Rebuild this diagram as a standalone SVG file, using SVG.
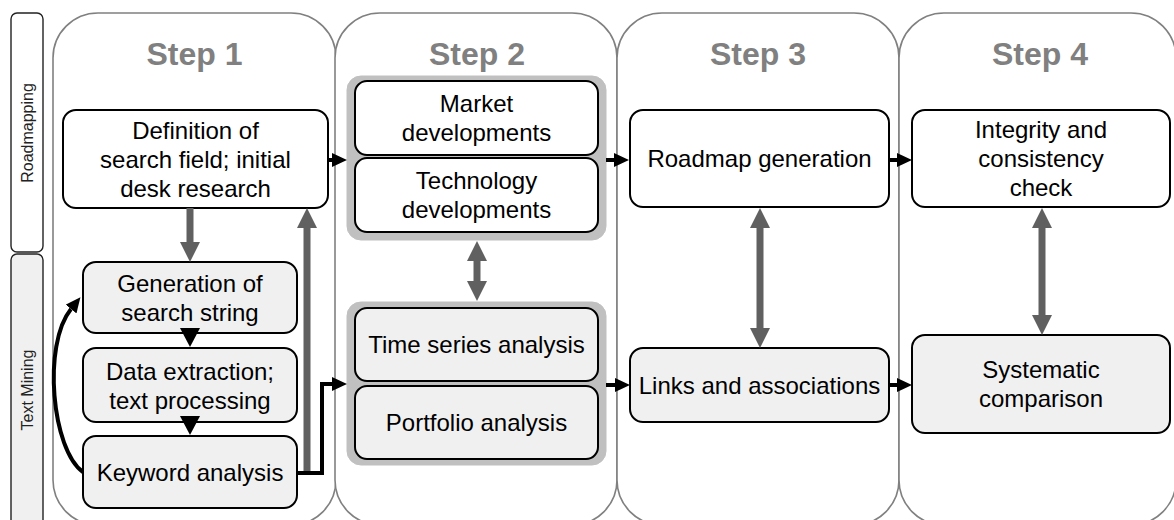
<svg xmlns="http://www.w3.org/2000/svg" width="1174" height="520" viewBox="0 0 1174 520">
<style>
.col{fill:#fff;stroke:#808080;stroke-width:1.6}
.side{stroke:#222;stroke-width:1.4}
.node{stroke:#000;stroke-width:2}
.w{fill:#fff}
.g{fill:#f0f0f0}
.grp{fill:#c0c0c0;stroke:#c0c0c0;stroke-width:1}
text{font-family:"Liberation Sans",Arial,sans-serif;text-anchor:middle}
.t{font-size:24px;fill:#000}
.step{font-size:32px;font-weight:bold;fill:#808080}
.lab{font-size:16px;fill:#222}
.blk{fill:none;stroke:#000;stroke-width:4}
.gry{fill:none;stroke:#606060;stroke-width:7}
</style>
<defs>
<marker id="ab" markerUnits="userSpaceOnUse" markerWidth="16" markerHeight="14" refX="0" refY="7" orient="auto" viewBox="0 0 16 14">
<path d="M0,0 L15,7 L0,14 z" fill="#000"/>
</marker>
<marker id="ag" markerUnits="userSpaceOnUse" markerWidth="20" markerHeight="20" refX="0" refY="10" orient="auto-start-reverse" viewBox="0 0 20 20">
<path d="M0,0 L20,10 L0,20 z" fill="#606060"/>
</marker>
</defs>

<g id="columns">
<rect class="col" x="53" y="13" width="283" height="512" rx="45" ry="45"/>
<rect class="col" x="335" y="13" width="282" height="512" rx="45" ry="45"/>
<rect class="col" x="617" y="13" width="282" height="512" rx="45" ry="45"/>
<rect class="col" x="899" y="13" width="277" height="512" rx="45" ry="45"/>
<text class="step" x="194.5" y="65">Step 1</text>
<text class="step" x="477" y="65">Step 2</text>
<text class="step" x="758" y="65">Step 3</text>
<text class="step" x="1040" y="65">Step 4</text>
</g>

<g id="lane-roadmapping">
<rect class="side" x="11" y="13" width="32" height="239" rx="6" fill="#fff"/>
<text class="lab" transform="translate(33,133) rotate(-90)">Roadmapping</text>
</g>
<g id="lane-textmining">
<rect class="side" x="11" y="254" width="32" height="290" rx="6" fill="#f0f0f0"/>
<text class="lab" transform="translate(33,390) rotate(-90)">Text Mining</text>
</g>

<g id="group-roadmap-step2">
<rect class="grp" x="347" y="76" width="259" height="164" rx="14"/>
</g>
<g id="group-textmining-step2">
<rect class="grp" x="347" y="302" width="259" height="163" rx="14"/>
</g>

<g id="definition">
<rect class="node w" x="63" y="110" width="265" height="98" rx="13"/>
<text class="t" x="195.5" y="138.5">Definition of</text>
<text class="t" x="195.5" y="167.5">search field; initial</text>
<text class="t" x="195.5" y="196.5">desk research</text>
</g>
<g id="generation">
<rect class="node g" x="83" y="262" width="214" height="71" rx="13"/>
<text class="t" x="190" y="291.5">Generation of</text>
<text class="t" x="190" y="320.5">search string</text>
</g>
<g id="extraction">
<rect class="node g" x="83" y="348" width="214" height="74" rx="13"/>
<text class="t" x="190" y="379.5">Data extraction;</text>
<text class="t" x="190" y="408.5">text processing</text>
</g>
<g id="keyword">
<rect class="node g" x="83" y="436" width="214" height="72" rx="13"/>
<text class="t" x="190" y="480.5">Keyword analysis</text>
</g>

<g id="market">
<rect class="node w" x="355" y="81" width="243" height="74" rx="12"/>
<text class="t" x="476.5" y="112">Market</text>
<text class="t" x="476.5" y="141">developments</text>
</g>
<g id="technology">
<rect class="node w" x="355" y="158" width="243" height="74" rx="12"/>
<text class="t" x="476.5" y="189">Technology</text>
<text class="t" x="476.5" y="218">developments</text>
</g>
<g id="timeseries">
<rect class="node g" x="355" y="308" width="243" height="73" rx="12"/>
<text class="t" x="476.5" y="353">Time series analysis</text>
</g>
<g id="portfolio">
<rect class="node g" x="355" y="386" width="243" height="73" rx="12"/>
<text class="t" x="476.5" y="431">Portfolio analysis</text>
</g>

<g id="roadmap">
<rect class="node w" x="630" y="110" width="259" height="97" rx="13"/>
<text class="t" x="759.5" y="167">Roadmap generation</text>
</g>
<g id="links">
<rect class="node g" x="630" y="348" width="259" height="74" rx="13"/>
<text class="t" x="759.5" y="393.5">Links and associations</text>
</g>

<g id="integrity">
<rect class="node w" x="912" y="110" width="258" height="97" rx="13"/>
<text class="t" x="1041" y="138">Integrity and</text>
<text class="t" x="1041" y="167">consistency</text>
<text class="t" x="1041" y="196">check</text>
</g>
<g id="systematic">
<rect class="node g" x="912" y="335" width="258" height="98" rx="13"/>
<text class="t" x="1041" y="378">Systematic</text>
<text class="t" x="1041" y="407">comparison</text>
</g>

<g id="connectors">
<path class="gry" d="M190 208 V242" marker-end="url(#ag)"/>
<path class="gry" d="M307 475 V228" marker-end="url(#ag)"/>
<path class="gry" d="M477 261 V281" marker-start="url(#ag)" marker-end="url(#ag)"/>
<path class="gry" d="M760 228 V328" marker-start="url(#ag)" marker-end="url(#ag)"/>
<path class="gry" d="M1042 228 V315" marker-start="url(#ag)" marker-end="url(#ag)"/>
<path d="M180 328 H200 L190 347 z" fill="#000"/>
<path d="M180 416 H200 L190 435 z" fill="#000"/>
<path class="blk" d="M328 160 H332" marker-end="url(#ab)"/>
<path class="blk" d="M606 160 H614" marker-end="url(#ab)"/>
<path class="blk" d="M297 473 H322 V384 H332" marker-end="url(#ab)"/>
<path class="blk" d="M606 385 H615" marker-end="url(#ab)"/>
<path class="blk" d="M889 160 H897" marker-end="url(#ab)"/>
<path class="blk" d="M889 385 H897" marker-end="url(#ab)"/>
<path class="blk" d="M83 472 C52 450 42 345 71 309" marker-end="url(#ab)"/>
</g>
</svg>
